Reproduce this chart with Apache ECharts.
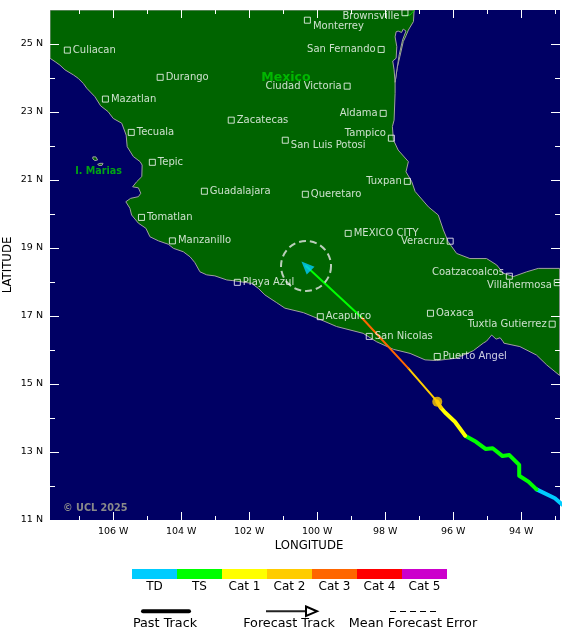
<!DOCTYPE html>
<html>
<head>
<meta charset="utf-8">
<title>Forecast track</title>
<script src="https://cdn.jsdelivr.net/npm/echarts@6/dist/echarts.min.js"></script>
<style>
html, body { margin: 0; padding: 0; background: #fff; }
#map { width: 580px; height: 639px; }
</style>
</head>
<body>
<div id="map"></div>
<script>
// tick values
var lonMajor = [-106, -104, -102, -100, -98, -96, -94];
var lonMinor = [-107, -105, -103, -101, -99, -97, -95, -93];
var latMajor = [11, 13, 15, 17, 19, 21, 23, 25];
var latMinor = [12, 14, 16, 18, 20, 22, 24];

// coastline, lon/lat, clockwise from the top left corner of the map
var landMain = [[-107.86,26],[-97.15,26],[-97.17,25.66],[-97.32,25.41],[-97.39,25.24],[-97.47,25.07],[-97.57,24.63],[-97.65,24.29],
	[-97.71,23.87],[-97.71,23.55],[-97.74,22.76],[-97.79,22.57],[-97.76,22.18],[-97.62,21.88],[-97.32,21.54],[-97.39,21.24],
	[-97.22,20.95],[-97.12,20.66],[-96.73,20.21],[-96.44,19.97],[-96.29,19.53],[-96.15,19.19],[-95.90,18.84],[-95.51,18.69],
	[-95.02,18.69],[-94.72,18.50],[-94.53,18.26],[-94.23,18.16],[-93.84,18.30],[-93.50,18.40],[-92.87,18.40],[-92.87,15.25],
	[-93.25,15.56],[-93.55,15.85],[-94.04,16.10],[-94.51,16.20],[-94.53,16.24],[-94.62,16.36],[-94.74,16.32],[-94.87,16.44],
	[-95.02,16.26],[-95.12,16.20],[-95.41,15.98],[-95.90,15.76],[-96.49,15.69],[-96.83,15.71],[-97.27,15.90],[-97.76,16.02],
	[-98.25,16.24],[-98.65,16.49],[-99.43,16.69],[-99.92,16.90],[-100.41,17.10],[-100.95,17.23],[-101.19,17.39],[-101.54,17.62],
	[-101.73,17.81],[-101.93,17.96],[-102.48,18.04],[-102.66,18.06],[-103.01,18.18],[-103.25,18.21],[-103.45,18.30],[-103.60,18.57],
	[-103.74,18.74],[-103.94,18.89],[-104.23,18.99],[-104.38,19.11],[-104.67,19.21],[-104.92,19.33],[-105.04,19.58],[-105.26,19.73],
	[-105.46,19.97],[-105.51,20.17],[-105.63,20.36],[-105.49,20.46],[-105.26,20.51],[-105.19,20.61],[-105.26,20.77],[-105.43,20.80],
	[-105.31,20.95],[-105.16,21.10],[-105.15,21.44],[-105.21,21.54],[-105.41,21.69],[-105.59,21.98],[-105.62,22.32],[-105.75,22.67],
	[-106.00,22.81],[-106.15,23.01],[-106.37,23.18],[-106.54,23.45],[-106.78,23.70],[-106.88,23.84],[-107.03,23.99],[-107.17,24.09],
	[-107.42,24.24],[-107.57,24.38],[-107.71,24.48],[-107.86,24.58]];
var lagoon = [[-97.68,25.36],[-97.71,25.21],[-97.66,24.92],[-97.68,24.58],[-97.78,24.50],[-97.74,24.24],[-97.71,23.87],[-97.65,24.29],
	[-97.59,24.68],[-97.49,25.12],[-97.39,25.38],[-97.47,25.44],[-97.52,25.34],[-97.62,25.38]];
var islandOne = [[-106.60,21.68],[-106.51,21.68],[-106.46,21.59],[-106.54,21.57],[-106.60,21.62]];
var islandTwo = [[-106.46,21.46],[-106.39,21.49],[-106.30,21.49],[-106.33,21.43],[-106.42,21.43]];
var usBorder = [[-97.42,25.84],[-97.27,25.85],[-97.15,25.99]];

// cities
var cityNames = ['Culiacan','Durango','Mazatlan','Zacatecas','Tecuala','San Luis Potosi','Tepic','Guadalajara','Tomatlan','Manzanillo',
	'Queretaro','Monterrey','Brownsville','San Fernando','Ciudad Victoria','Aldama','Tampico','Tuxpan','MEXICO CITY','Veracruz',
	'Coatzacoalcos','Villahermosa','Oaxaca','Tuxtla Gutierrez','Puerto Angel','San Nicolas','Acapulco','Playa Azul'];
var cityLon = [-107.35,-104.62,-106.23,-102.53,-105.47,-100.94,-104.85,-103.32,-105.17,-104.26,
	-100.35,-100.29,-97.42,-98.12,-99.12,-98.06,-97.82,-97.35,-99.09,-96.09,
	-94.35,-92.94,-96.67,-93.09,-96.47,-98.47,-99.91,-102.35];
var cityLat = [24.82,24.02,23.38,22.76,22.40,22.17,21.52,20.67,19.90,19.21,
	20.58,25.70,25.92,24.84,23.76,22.96,22.23,20.96,19.43,19.20,
	18.17,17.98,17.08,16.76,15.81,16.40,16.98,17.99];

// storm track by category
var pastTD = [[-92.8,11.46],[-93.01,11.64],[-93.55,11.90]];
var pastTS = [[-93.55,11.90],[-93.79,12.13],[-94.06,12.30],[-94.06,12.62],[-94.35,12.91],[-94.55,12.88],[-94.84,13.11],[-95.05,13.09],[-95.33,13.30],[-95.65,13.48]];
var pastCat1 = [[-95.65,13.48],[-95.95,13.89],[-96.24,14.16],[-96.37,14.31]];
var pastCat2 = [[-96.37,14.31],[-96.47,14.48]];
var forecastCat2 = [[-96.47,14.48],[-97.32,15.46]];
var forecastCat3 = [[-97.32,15.46],[-98.71,16.97]];
var forecastTS = [[-98.71,16.97],[-100.33,18.47]];
var currentPos = [-96.47, 14.48];
var forecastPos = [-100.33, 18.47];

var catLabels = ['TD', 'TS', 'Cat 1', 'Cat 2', 'Cat 3', 'Cat 4', 'Cat 5'];
var catColors = ['#00ccff', '#00ff00', '#ffff00', '#ffcc00', '#ff6600', '#ff0000', '#cc00cc'];

var FONT = '"DejaVu Sans"';
var LON_MIN = -107.86, LON_MAX = -92.86;

// label tweaks [side, y offset]
var labelTweak = {
	'San Luis Potosi': ['right', 5.5], 'Monterrey': ['right', 6],
	'Brownsville': ['left', 4], 'San Fernando': ['left', 0], 'Ciudad Victoria': ['left', 0], 'Aldama': ['left', 0],
	'Tampico': ['left', -5], 'Tuxpan': ['left', 0], 'Veracruz': ['left', 0], 'Coatzacoalcos': ['left', -3.5],
	'Villahermosa': ['left', 2.5], 'Tuxtla Gutierrez': ['left', 0]
};

var cityData = [];
for (var i = 0; i < cityNames.length; i++) {
	var tw = labelTweak[cityNames[i]] || ['right', 0];
	cityData.push({
		name: cityNames[i],
		value: [cityLon[i], cityLat[i]],
		label: { position: tw[0], offset: [0, tw[1]] }
	});
}

function lonAxis(pos, ticks, len, showLabel) {
	return {
		type: 'value', position: pos, min: LON_MIN, max: LON_MAX, z: 20,
		axisLine: { show: false }, splitLine: { show: false },
		axisTick: { show: true, inside: true, length: len, customValues: ticks, lineStyle: { color: '#fff', width: 1 } },
		axisLabel: { show: showLabel, customValues: ticks, margin: 7, color: '#000', fontFamily: FONT, fontSize: 9.5,
			formatter: function (v) { return Math.abs(v) + ' W'; } }
	};
}
function latAxis(pos, ticks, len, showLabel) {
	return {
		type: 'value', position: pos, min: 11, max: 26, z: 20,
		axisLine: { show: false }, splitLine: { show: false },
		axisTick: { show: true, inside: true, length: len, customValues: ticks, lineStyle: { color: '#fff', width: 1 } },
		axisLabel: { show: showLabel, customValues: ticks, margin: 7, color: '#000', fontFamily: FONT, fontSize: 9.5,
			formatter: function (v) { return v + ' N'; } }
	};
}
function trackLine(points, color, width) {
	return {
		type: 'line', data: points, symbol: 'none', z: 5, silent: true,
		lineStyle: { color: color, width: width, cap: 'round', join: 'round' }
	};
}
function shapeSeries(shapes, fill, z) {
	return {
		type: 'custom', z: z, clip: true, silent: true,
		data: shapes.map(function (s, i) { return [i]; }),
		renderItem: function (params, api) {
			var pts = shapes[params.dataIndex].map(function (p) { return api.coord(p); });
			return { type: 'polygon', shape: { points: pts }, style: { fill: fill, stroke: '#a0a0a0', lineWidth: 1 } };
		}
	};
}

// legend under the map
var legend = [];
catColors.forEach(function (c, i) {
	legend.push({ type: 'rect', shape: { x: 132 + i * 45, y: 569, width: 45, height: 10 }, style: { fill: c } });
	legend.push({ type: 'text', style: { x: 154.5 + i * 45, y: 587, text: catLabels[i], fill: '#000', font: '12px ' + FONT, textAlign: 'center', textVerticalAlign: 'middle' } });
});
legend.push(
	{ type: 'line', shape: { x1: 143, y1: 611.3, x2: 189, y2: 611.3 }, style: { stroke: '#000', lineWidth: 4, lineCap: 'round' } },
	{ type: 'line', shape: { x1: 266, y1: 611.3, x2: 306, y2: 611.3 }, style: { stroke: '#222', lineWidth: 2 } },
	{ type: 'polygon', shape: { points: [[306, 606.5], [317, 611.3], [306, 616]] }, style: { fill: 'none', stroke: '#000', lineWidth: 2 } },
	{ type: 'line', shape: { x1: 390, y1: 611.5, x2: 436, y2: 611.5 }, style: { stroke: '#000', lineWidth: 1, lineDash: [6, 4] } }
);
[['Past Track', 165], ['Forecast Track', 289], ['Mean Forecast Error', 413]].forEach(function (t) {
	legend.push({ type: 'text', style: { x: t[1], y: 623.5, text: t[0], fill: '#000', font: '12.8px ' + FONT, textAlign: 'center', textVerticalAlign: 'middle' } });
});
legend.push({ type: 'text', z: 30, style: { x: 63, y: 508.5, text: '© UCL 2025', fill: '#8a8a8a', font: 'bold 9.7px ' + FONT, textVerticalAlign: 'middle' } });

var xMain = lonAxis('bottom', lonMajor, 8, true);
xMain.name = 'LONGITUDE';
xMain.nameLocation = 'middle';
xMain.nameGap = 20;
xMain.nameMoveOverlap = false;
xMain.nameTextStyle = { color: '#000', fontFamily: FONT, fontSize: 11.7, padding: [0, 0, 0, 8] };
var yMain = latAxis('left', latMajor, 9, true);
yMain.name = 'LATITUDE';
yMain.nameLocation = 'middle';
yMain.nameGap = 36;
yMain.nameMoveOverlap = false;
yMain.nameTextStyle = { color: '#000', fontFamily: FONT, fontSize: 11.7 };

var option = {
	animation: false,
	backgroundColor: '#fff',
	grid: { left: 50, right: 20, top: 10, bottom: 119, show: true, backgroundColor: '#000064', borderWidth: 0, outerBoundsMode: 'none' },
	xAxis: [xMain, lonAxis('bottom', lonMinor, 4, false), lonAxis('top', lonMajor, 8, false), lonAxis('top', lonMinor, 4, false)],
	yAxis: [yMain, latAxis('left', latMinor, 5, false), latAxis('right', latMajor, 9, false), latAxis('right', latMinor, 5, false)],
	graphic: legend,
	series: [
		shapeSeries([landMain, islandOne, islandTwo], '#006400', 1),
		shapeSeries([lagoon], '#000064', 2),
		trackLine(usBorder, '#00c800', 1),
		trackLine(pastTD, catColors[0], 4),
		trackLine(pastTS, catColors[1], 4),
		trackLine(pastCat1, catColors[2], 4),
		trackLine(pastCat2, catColors[3], 4),
		trackLine(forecastCat2, catColors[3], 2),
		trackLine(forecastCat3, catColors[4], 2),
		trackLine(forecastTS, catColors[1], 2),
		{
			type: 'scatter', z: 6, silent: true, data: [currentPos], symbol: 'circle', symbolSize: 10,
			itemStyle: { color: catColors[3] }
		},
		{
			type: 'scatter', z: 6, silent: true, data: [forecastPos], symbol: 'circle', symbolSize: 50,
			itemStyle: { color: 'transparent', borderColor: '#e8e8e8', borderWidth: 2, borderType: [7, 4] }
		},
		{
			type: 'scatter', z: 7, silent: true, data: [forecastPos], symbol: 'triangle', symbolSize: [11, 13], symbolRotate: 45,
			itemStyle: { color: catColors[0] }
		},
		{
			type: 'scatter', z: 8, silent: true, data: cityData, symbol: 'rect', symbolSize: 6,
			itemStyle: { color: 'transparent', borderColor: '#fff', borderWidth: 1 },
			label: { show: true, distance: 2, color: '#fff', fontFamily: FONT, fontSize: 10, formatter: '{b}' }
		},
		{
			type: 'scatter', z: 8, silent: true, symbolSize: 0,
			data: [
				{ name: 'Mexico', value: [-100.92, 24.0], label: { fontSize: 12.5 } },
				{ name: 'I. Marias', value: [-106.43, 21.24], label: { fontSize: 9.6 } }
			],
			label: { show: true, position: 'inside', color: '#00cc00', fontFamily: FONT, fontWeight: 'bold', formatter: '{b}' }
		}
	]
};

var myChart = echarts.init(document.getElementById('map'));
myChart.setOption(option);
</script>
</body>
</html>
